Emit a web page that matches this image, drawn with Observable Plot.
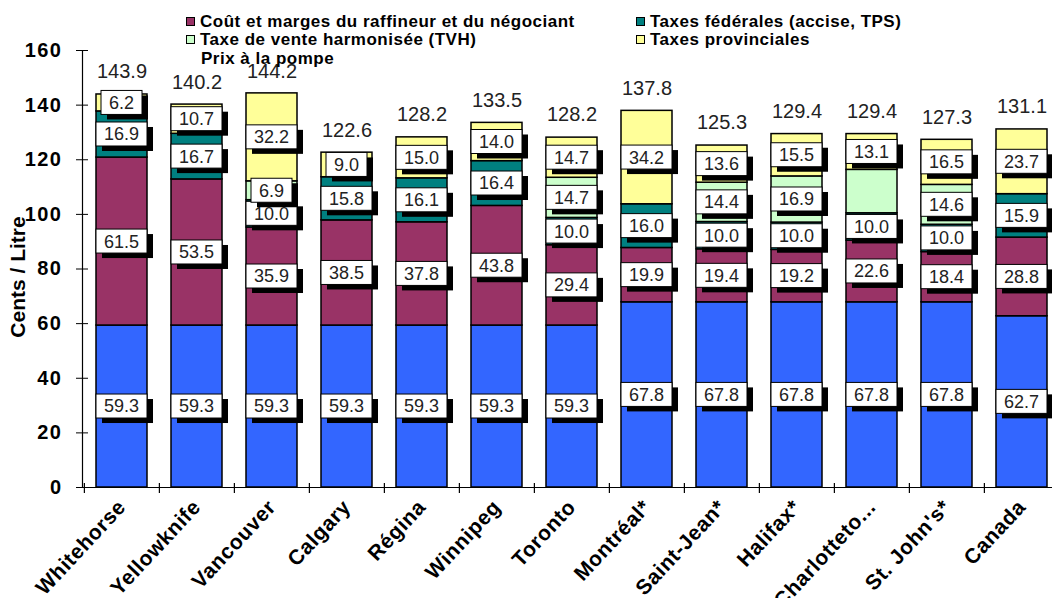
<!DOCTYPE html>
<html><head><meta charset="utf-8">
<script src="https://cdn.jsdelivr.net/npm/d3@7"></script>
<script src="https://cdn.jsdelivr.net/npm/@observablehq/plot@0.6"></script>
<style>
body{margin:0;background:#fff;}
#wrap{position:relative;width:1052px;height:598px;overflow:hidden;font-family:"Liberation Sans",Arial,sans-serif;}
#legend{position:absolute;left:0;top:0;width:1052px;height:70px;font-family:"Liberation Sans",Arial,sans-serif;font-weight:bold;font-size:17px;letter-spacing:0.5px;color:#000;pointer-events:none;}
.item{position:absolute;white-space:nowrap;display:flex;align-items:center;line-height:17px;}
.sw{display:inline-block;width:7px;height:7px;border:1.5px solid #000;margin-right:5px;}
</style></head><body>
<div id="wrap"><div id="chart"></div><div id="legend"></div></div>
<script>
// ---- data ----
const cities = ["Whitehorse","Yellowknife","Vancouver","Calgary","Régina","Winnipeg","Toronto","Montréal*","Saint-Jean*","Halifax*","Charlotteto...","St. John's*","Canada"];
const crude      = [59.3,59.3,59.3,59.3,59.3,59.3,59.3,67.8,67.8,67.8,67.8,67.8,62.7];
const refining   = [61.5,53.5,35.9,38.5,37.8,43.8,29.4,19.9,19.4,19.2,22.6,18.4,28.8];
const federal    = [16.9,16.7,10.0,15.8,16.1,16.4,10.0,16.0,10.0,10.0,10.0,10.0,15.9];
const hst        = [0,0,6.9,0,0,0,14.7,0,14.4,16.9,15.9,14.6,0];
const provincial = [6.2,10.7,32.2,9.0,15.0,14.0,14.7,34.2,13.6,15.5,13.1,16.5,23.7];
const pumpPrice  = [143.9,140.2,144.2,122.6,128.2,133.5,128.2,137.8,125.3,129.4,129.4,127.3,131.1];
const components = ["Coût du pétrole brut","Coût et marges du raffineur et du négociant","Taxes fédérales (accise, TPS)","Taxe de vente harmonisée (TVH)","Taxes provinciales"];
const colors     = ["#3366FF","#993366","#008080","#CCFFCC","#FFFF99"];
const legendItems = [1,2,3,4]; // component indices shown in the legend
const legendExtra = "Prix à la pompe";
const unlabelled = [["Charlotteto...","Taxe de vente harmonisée (TVH)"]];
const yTicks = [0,20,40,60,80,100,120,140,160];
const yLabel = "Cents / Litre";

// ---- build table ----
const series = [crude, refining, federal, hst, provincial];
const rows = [];
cities.forEach((city, i) => {
  let base = 0;
  series.forEach((s, k) => {
    const v = s[i];
    rows.push({city, component: components[k], value: v, y1: base, y2: base + v, mid: base + v / 2});
    base += v;
  });
});
const labelRows = rows.filter(d => d.value > 0 && !unlabelled.some(([c, k]) => c === d.city && k === d.component))
  .map(d => ({...d, label: d.value.toFixed(1)}));
const totals = cities.map((city, i) => ({city, total: pumpPrice[i]}));

const W = 1052, H = 598, mL = 82, mT = 50, mB = 111;
const xRange = [mL, 1060];
const step = (xRange[1] - xRange[0]) / cities.length;

function boxedLabels(data) {
  return Plot.text(data, {
    x: "city", y: "mid", text: "label",
    render(index, scales, values, dims, context, next) {
      const g = d3.create("svg:g").attr("aria-label", "segment labels");
      const xs = scales.x;
      const bw = xs.bandwidth ? xs.bandwidth() : step * 0.68;
      const ctx = document.createElement("canvas").getContext("2d");
      ctx.font = "18px 'Liberation Sans', Arial, sans-serif";
      for (const i of index) {
        const d = data[i];
        const cx = xs(d.city) + bw / 2;
        const cy = scales.y(d.mid);
        const w = Math.round(ctx.measureText(d.label).width + 16), h = 24;
        g.append("rect").attr("x", cx - w / 2 + 6).attr("y", cy - h / 2 + 5)
          .attr("width", w).attr("height", h).attr("fill", "#000");
        g.append("rect").attr("x", cx - w / 2).attr("y", cy - h / 2)
          .attr("width", w).attr("height", h).attr("fill", "#fff")
          .attr("stroke", "#000").attr("stroke-width", 1);
        g.append("text").attr("x", cx).attr("y", cy).attr("dy", "0.36em")
          .attr("text-anchor", "middle").attr("font-size", 18)
          .attr("font-family", "'Liberation Sans', Arial, sans-serif")
          .attr("fill", "#222").text(d.label);
      }
      return g.node();
    }
  });
}

const chart = Plot.plot({
  width: W, height: H,
  marginLeft: mL, marginRight: 0, marginTop: mT, marginBottom: mB,
  style: {fontFamily: "'Liberation Sans', Arial, sans-serif", background: "transparent", color: "#000"},
  x: {domain: cities, range: xRange, paddingInner: 0.32, paddingOuter: 0.16, label: null},
  y: {domain: [0, 160], label: null},
  color: {domain: components, range: colors},
  marks: [
    Plot.barY(rows, {x: "city", y1: "y1", y2: "y2", fill: "component", stroke: "#000", strokeWidth: 1.5}),
    Plot.ruleY([0], {stroke: "#000", strokeWidth: 1.2}),
    Plot.frame({anchor: "left", stroke: "#000", strokeWidth: 1.2}),
    Plot.ruleX(cities, {x: d => d, y1: 1.5, y2: -2.2, dx: -step / 2, stroke: "#000", strokeWidth: 1.2}),
    Plot.axisY({ticks: yTicks, tickSize: 12, dx: 6, tickPadding: 14, fontSize: 20, fontWeight: "bold", label: null}),
    Plot.axisX({tickSize: 0, tickRotate: -47, tickPadding: 16, fontSize: 21, fontWeight: "bold", label: null}),
    Plot.text([yLabel], {frameAnchor: "left", textAnchor: "middle", rotate: -90, dx: -64, dy: 8, fontSize: 21, fontWeight: "bold", text: d => d, ariaLabel: "ylabel"}),
    Plot.text(totals, {x: "city", y: "total", text: d => d.total.toFixed(1), dy: -16, lineAnchor: "bottom", fontSize: 20, fill: "#222", ariaLabel: "totals"}),
    boxedLabels(labelRows)
  ]
});
document.getElementById("chart").appendChild(chart);
d3.select(chart).selectAll("g[aria-label='totals'] text").style("letter-spacing", "1.5px");
d3.select(chart).selectAll("g[aria-label='y-axis tick label'] text").style("letter-spacing", "1.5px");
d3.select(chart).selectAll("g[aria-label='x-axis tick label'] text").style("letter-spacing", "0.6px");
d3.select(chart).selectAll("g[aria-label='ylabel'] text").style("letter-spacing", "3px");

// ---- legend (HTML overlay) ----
const legend = d3.select("#legend");
const pos = [[186, 13], [636, 13], [186, 31], [636, 31]];
legendItems.forEach((k, j) => {
  const it = legend.append("div").attr("class", "item").style("left", pos[j][0] + "px").style("top", pos[j][1] + "px");
  it.append("span").attr("class", "sw").style("background", colors[k]);
  it.append("span").text(components[k]);
});
legend.append("div").attr("class", "item").style("left", "201px").style("top", "50px").text(legendExtra);
</script></body></html>
